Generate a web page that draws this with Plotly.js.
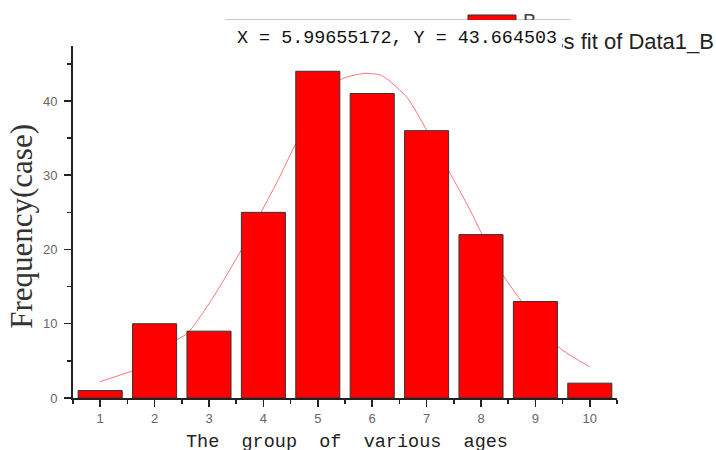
<!DOCTYPE html>
<html><head><meta charset="utf-8">
<script src="https://cdn.plot.ly/plotly-3.0.1.min.js"></script>
<style>html,body{margin:0;padding:0;background:#fff}#chart{width:716px;height:450px}</style>
</head><body><div id="chart"></div>
<script>
const ageGroups = [1, 2, 3, 4, 5, 6, 7, 8, 9, 10];
const frequency = [1, 10, 9, 25, 44, 41, 36, 22, 13, 2];
const fitX = [1.0, 1.6, 2.0, 2.4, 2.6, 3.0, 3.6, 3.95, 4.3, 4.6, 5.0, 5.4, 5.85, 6.0, 6.15, 6.3, 6.5, 6.65, 7.0, 7.4, 7.8, 8.0, 8.4, 9.0, 9.4, 10.0];
const fitY = [2.2, 3.7, 5.0, 7.8, 8.7, 12.7, 20.0, 24.9, 29.8, 34.3, 39.0, 42.8, 43.7, 43.66, 43.5, 42.8, 41.5, 40.4, 36.1, 30.7, 25.3, 22.3, 16.6, 10.6, 7.0, 4.2];
const xTitle = 'The\u00a0\u00a0group\u00a0\u00a0of\u00a0\u00a0various\u00a0\u00a0ages';
const yTitle = 'Frequency(case)';
const fitLegend = 'Gauss fit of Data1_B';
const barLegend = 'B';
const readout = 'X = 5.99655172, Y = 43.664503';

const fitTrace = {
  x: fitX, y: fitY, type: 'scatter', mode: 'lines',
  line: {color: 'rgba(255,60,60,0.7)', width: 1, shape: 'spline', smoothing: 0.8},
  xaxis: 'x', yaxis: 'y', hoverinfo: 'skip'
};
const barTrace = {
  x: ageGroups, y: frequency, type: 'bar', width: 0.81,
  marker: {color: '#ff0000', line: {color: '#333333', width: 1}},
  xaxis: 'x2', yaxis: 'y2', hoverinfo: 'skip'
};

const tickFont = {family: 'Liberation Sans, Arial, sans-serif', size: 13, color: '#666'};
const layout = {
  width: 716, height: 450,
  margin: {l: 73, r: 99, t: 46, b: 52},
  paper_bgcolor: '#fff', plot_bgcolor: '#fff',
  showlegend: false,
  xaxis: {
    range: [0.5, 10.5], tickmode: 'linear', tick0: 1, dtick: 1,
    ticks: 'outside', ticklen: 7, tickwidth: 1.5, tickcolor: '#222',
    showline: true, linewidth: 2, linecolor: '#222', showgrid: false, zeroline: false,
    tickfont: tickFont, ticklabelstandoff: 0,
    minor: {tick0: 0.5, dtick: 1, ticks: 'outside', ticklen: 4, tickwidth: 1.5, tickcolor: '#222', showgrid: false}
  },
  yaxis: {
    range: [0, 47.4], tickmode: 'linear', tick0: 0, dtick: 10,
    ticks: 'outside', ticklen: 7, tickwidth: 1.5, tickcolor: '#222',
    showline: true, linewidth: 2, linecolor: '#222', showgrid: false, zeroline: false,
    tickfont: tickFont, ticklabelstandoff: 4,
    minor: {tick0: 0, dtick: 5, ticks: 'outside', ticklen: 4, tickwidth: 1.5, tickcolor: '#222', showgrid: false}
  },
  xaxis2: {range: [0.5, 10.5], overlaying: 'x', visible: false, showgrid: false, zeroline: false},
  yaxis2: {range: [0, 47.4], overlaying: 'y', visible: false, showgrid: false, zeroline: false},
  shapes: [
    {type: 'line', xref: 'paper', yref: 'paper', x0: 0.2794, x1: 0.9136, y0: 1.0753, y1: 1.0753,
     line: {color: '#c8c8c8', width: 1}},
    {type: 'rect', xref: 'paper', yref: 'paper', x0: 0.7261, x1: 0.8143, y0: 1.0568, y1: 1.0881,
     fillcolor: '#ff0000', line: {color: '#333', width: 1}}
  ],
  annotations: [
    {text: yTitle, xref: 'paper', yref: 'paper', x: -0.0938, y: 0.489, textangle: -90,
     showarrow: false, xanchor: 'center', yanchor: 'middle',
     font: {family: 'Liberation Serif, Times New Roman, serif', size: 31, color: '#333'}},
    {text: xTitle, xref: 'paper', yref: 'paper', x: 0.5037, y: -0.125,
     showarrow: false, xanchor: 'center', yanchor: 'middle',
     font: {family: 'Liberation Mono, monospace', size: 18.5, color: '#222'}},
    {text: fitLegend, xref: 'paper', yref: 'paper', x: 1.182, y: 1.0142,
     showarrow: false, xanchor: 'right', yanchor: 'middle',
     font: {family: 'Liberation Sans, Arial, sans-serif', size: 22, color: '#222'}},
    {text: barLegend, xref: 'paper', yref: 'paper', x: 0.8235, y: 1.071,
     showarrow: false, xanchor: 'left', yanchor: 'middle',
     font: {family: 'Liberation Sans, Arial, sans-serif', size: 20, color: '#444'}},
    {text: '\u00a0', xref: 'paper', yref: 'paper', x: 0.589, y: 1.0739,
     showarrow: false, xanchor: 'center', yanchor: 'top', width: 337, height: 42,
     bgcolor: '#ffffff', borderpad: 0, borderwidth: 0},
    {text: readout, xref: 'paper', yref: 'paper', x: 0.5956, y: 1.0213,
     showarrow: false, xanchor: 'center', yanchor: 'middle',
     font: {family: 'Liberation Mono, monospace', size: 18.4, color: '#111'}}
  ]
};

Plotly.newPlot('chart', [fitTrace, barTrace], layout, {displayModeBar: false, staticPlot: true});
</script>
</body></html>
